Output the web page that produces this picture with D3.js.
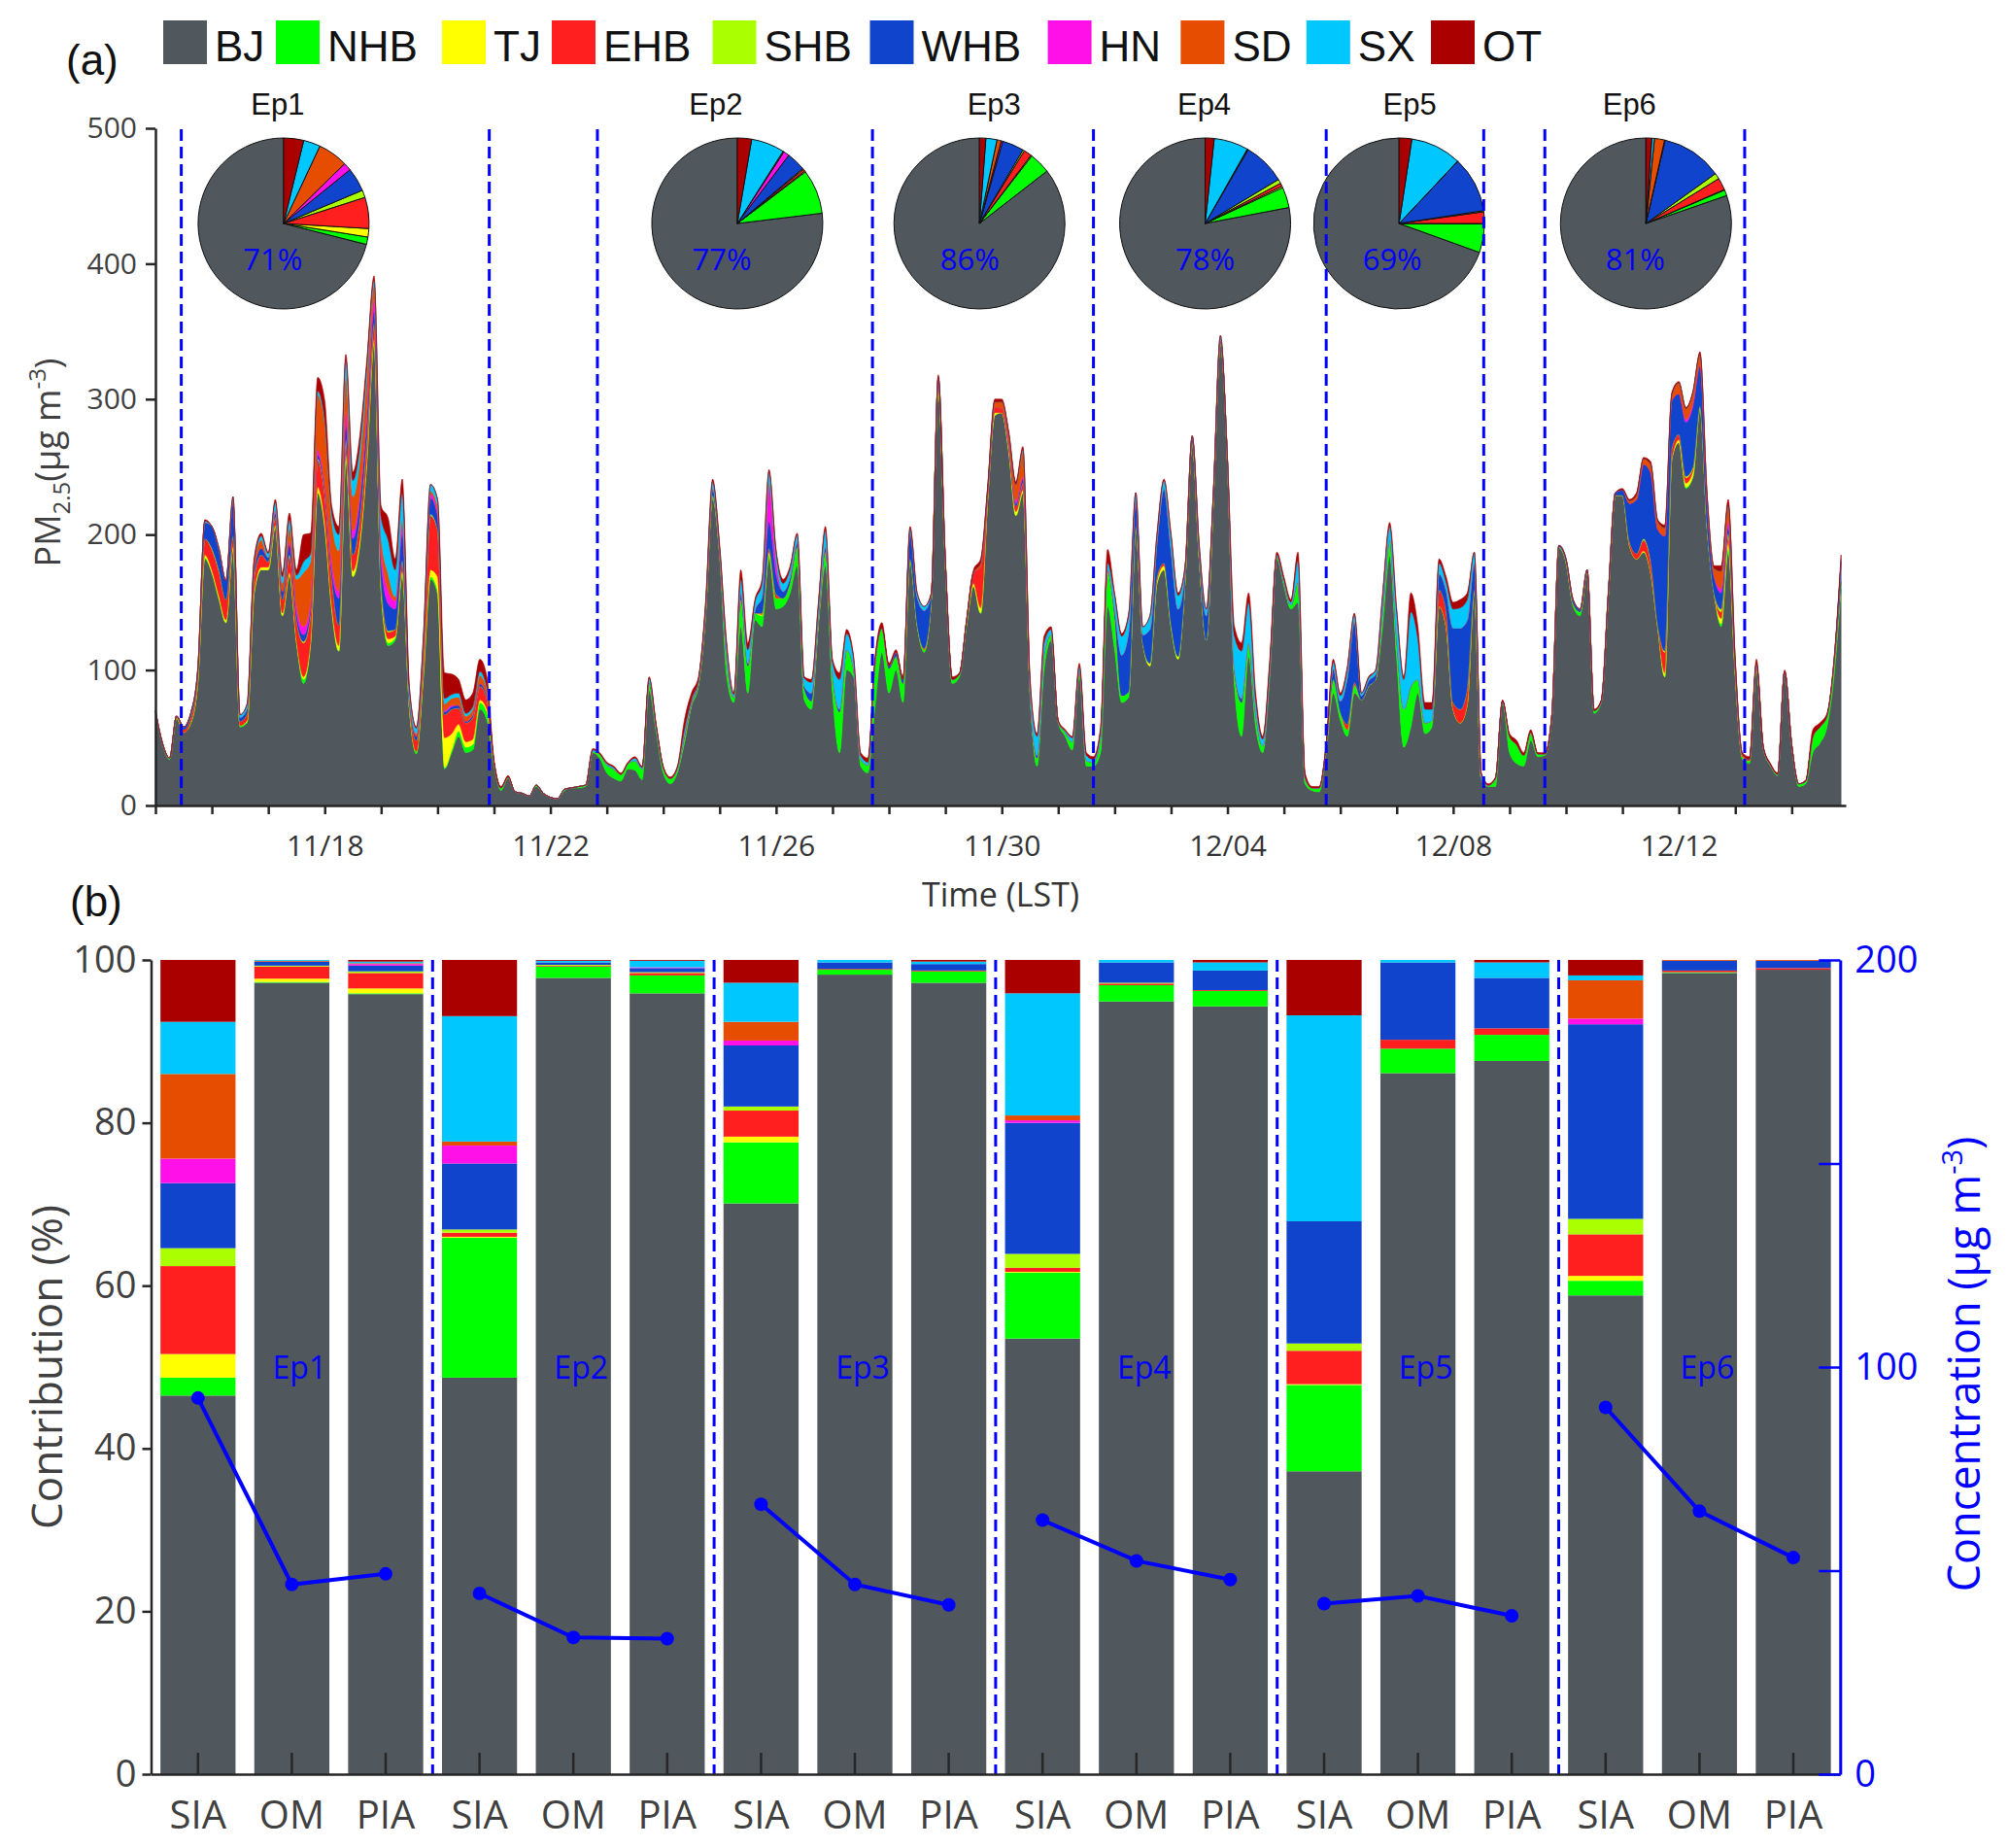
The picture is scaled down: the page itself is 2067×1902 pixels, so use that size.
<!DOCTYPE html>
<html>
<head>
<meta charset="utf-8">
<script src="https://cdn.jsdelivr.net/npm/d3@7"></script>
<style>body{margin:0;background:#fff}</style>
</head>
<body>
<svg id="chart" width="2067" height="1902"></svg>
<script>
var sources = ["BJ", "NHB", "TJ", "EHB", "SHB", "WHB", "HN", "SD", "SX", "OT"];
var colors = ["#50575d", "#00ff00", "#ffff00", "#ff1f1f", "#aaff00", "#1144cc", "#ff10e8", "#e64d00", "#00c8ff", "#aa0000"];

// (a) PM2.5 contributions, one value every 3 h starting 11/15 00:00
var hourStep = 3;
var tsBJ = [69,45,34,64,54,60,90,182,172,152,135,189,58,61,157,174,174,206,140,170,
  120,90,120,231,206,145,114,256,169,194,256,342,157,118,122,169,71,38,95,167,
  156,27,39,51,39,41,71,63,29,11,20,10,9,7,14,9,6,5,11,13,
  13,14,39,35,24,20,18,27,26,19,85,54,24,16,24,46,73,88,140,226,
  184,95,76,132,83,137,132,182,145,147,157,177,78,71,132,177,83,39,100,95,
  29,24,71,113,83,100,76,179,132,113,152,305,177,90,95,132,162,142,226,288,
  290,261,214,231,83,29,100,122,61,51,41,95,29,29,39,147,115,76,80,206,
  120,103,164,174,132,108,167,268,182,122,226,340,253,88,51,110,58,39,95,182,
  162,145,150,16,11,10,39,83,63,51,83,78,88,93,132,184,108,43,58,83,
  53,58,147,132,71,61,75,157,19,14,14,76,39,31,29,48,36,37,66,190,
  179,147,140,172,68,76,155,229,229,192,182,187,172,132,95,256,268,234,243,293,
  206,157,132,187,95,34,31,100,41,29,22,99,45,14,16,39,46,58,95,160];
var tsNHB = [1,1,1,1,0,1,1,1,0,1,0,0,1,1,0,0,0,0,0,0,
  1,3,0,0,0,0,0,0,0,0,0,0,2,2,2,2,2,2,2,2,
  3,1,2,4,4,4,5,6,3,2,1,0,0,0,1,0,0,0,1,0,
  1,1,1,3,6,7,5,4,7,8,6,4,4,4,3,4,2,2,2,3,
  2,12,4,20,20,5,8,3,8,6,8,14,8,6,4,10,15,30,15,6,
  5,6,32,18,18,10,14,3,2,2,0,5,2,3,2,2,0,0,0,0,
  0,0,0,0,3,6,12,4,1,3,6,5,4,3,12,25,25,5,4,0,
  0,0,0,0,0,0,0,0,0,0,0,2,1,10,25,10,10,5,5,2,
  3,3,15,4,2,3,3,10,6,5,6,0,0,0,12,12,15,28,30,10,
  8,5,0,0,0,0,0,2,0,1,6,1,12,14,8,6,2,1,1,1,
  1,2,3,0,2,1,0,0,0,0,0,0,0,0,0,0,0,1,0,0,
  0,0,2,3,2,2,2,2,1,1,1,0,0,2,2,12,12,8,8,5];
var tsTJ = [0,0,0,0,0,0,0,2,2,2,2,2,0,1,2,2,2,1,2,2,
  1,2,2,4,4,3,4,3,4,4,3,2,2,3,1,2,0,0,2,5,
  10,22,12,5,4,4,2,2,0,0,0,0,0,0,0,0,0,0,0,0,
  0,0,0,0,0,0,0,0,0,0,0,0,0,0,0,0,0,0,0,0,
  0,0,0,0,0,0,1,2,0,0,0,0,0,0,0,0,0,0,0,0,
  0,0,0,0,0,0,0,0,0,0,0,0,0,0,0,0,2,4,0,2,
  0,2,3,2,0,0,0,0,0,0,0,0,0,0,0,0,0,0,0,0,
  0,2,2,3,2,2,0,0,0,0,0,0,0,0,0,0,0,0,0,0,
  0,0,0,0,0,0,0,0,0,0,0,0,0,0,0,0,0,0,0,0,
  0,0,0,0,0,0,0,0,0,0,0,0,0,0,0,0,0,0,0,0,
  0,0,0,0,0,0,0,0,0,0,0,1,0,0,3,0,2,3,4,2,
  0,0,4,4,0,0,0,0,0,0,0,0,0,0,0,0,0,0,0,0];
var tsEHB = [0,0,0,1,2,4,5,12,15,18,15,8,3,5,10,9,4,6,10,12,
  15,25,20,20,20,20,15,10,12,15,15,12,4,5,5,8,3,8,15,40,
  35,17,18,12,14,16,10,8,0,0,0,0,0,0,0,0,0,0,0,0,
  0,0,0,0,0,0,0,0,0,0,0,0,0,0,0,0,0,0,0,0,
  0,0,0,0,0,0,1,3,3,0,0,0,0,0,0,0,0,0,0,0,
  0,0,0,0,0,0,0,0,0,1,0,0,0,0,0,2,8,30,5,4,
  3,3,4,5,0,0,0,0,0,0,0,0,0,0,0,2,0,0,0,0,
  0,0,3,2,0,0,0,0,0,0,0,0,0,0,0,0,0,0,0,0,
  0,0,0,0,0,0,0,0,0,4,2,0,0,0,0,0,0,0,0,0,
  0,0,12,12,5,10,12,0,0,0,0,0,0,0,0,0,0,0,0,0,
  0,0,0,0,0,0,0,0,0,3,4,8,8,2,15,8,4,4,2,0,
  0,0,5,5,2,1,1,0,0,0,0,0,0,0,0,0,0,0,0,0];
var tsSHB = [0,0,0,0,0,0,0,0,1,1,0,0,0,0,1,0,0,0,0,1,
  0,1,0,1,1,0,0,1,0,1,1,0,0,1,0,0,0,0,0,1,
  0,0,0,0,0,0,0,0,0,0,0,0,0,0,0,0,0,0,0,0,
  0,0,0,0,0,0,0,0,0,0,0,0,0,0,0,0,0,0,0,0,
  0,0,0,0,0,0,0,0,0,0,0,0,0,0,0,0,0,0,0,0,
  0,0,0,0,0,0,0,0,0,0,0,0,0,0,0,0,0,0,0,0,
  0,0,0,0,0,0,0,0,0,0,0,0,0,0,0,0,0,0,0,0,
  0,0,0,0,0,0,0,0,0,0,0,0,0,0,0,0,0,0,0,0,
  0,0,0,0,0,0,0,0,0,0,0,0,0,0,0,0,0,0,0,0,
  0,0,0,0,0,0,0,0,0,0,0,0,0,0,0,0,0,0,0,0,
  0,0,0,0,0,0,0,0,0,0,0,1,1,0,1,0,0,1,1,0,
  0,0,2,2,0,0,0,0,0,0,0,0,0,0,0,0,0,0,0,0];
var tsWHB = [0,0,0,0,2,3,4,12,16,15,14,25,3,4,5,5,3,3,6,8,
  5,5,4,3,3,6,20,12,12,12,12,10,15,20,15,20,5,3,5,12,
  10,2,2,2,1,2,2,2,0,0,0,0,0,0,0,0,0,0,0,0,
  0,0,0,0,0,0,0,0,0,0,0,0,0,0,0,2,1,2,3,5,
  2,2,0,5,2,2,12,20,15,5,4,3,2,6,4,4,0,2,0,0,
  0,0,0,0,2,3,3,20,20,28,4,6,2,0,0,0,0,0,0,0,
  0,0,2,3,2,2,0,0,0,0,0,0,0,0,0,0,5,30,45,20,
  6,25,25,55,55,35,8,4,6,18,4,2,0,2,3,0,0,0,0,0,
  0,0,0,0,0,0,2,8,8,35,45,3,4,4,0,0,0,0,0,0,
  0,0,12,15,55,60,50,20,2,0,0,0,0,0,0,0,0,0,0,1,
  2,3,2,2,0,0,2,2,4,28,40,55,65,70,85,35,30,40,45,30,
  18,12,12,5,3,0,0,2,0,0,0,0,0,0,0,0,0,0,3,15];
var tsHN = [0,0,0,0,0,0,0,0,0,0,0,1,0,0,0,0,0,2,0,2,
  5,6,4,4,3,6,5,10,6,5,6,8,8,10,6,6,0,0,0,3,
  3,1,1,0,0,0,0,0,0,0,0,0,0,0,0,0,0,0,0,0,
  0,0,0,0,0,0,0,0,0,0,0,0,0,0,0,0,0,0,0,0,
  0,0,0,0,0,0,0,25,10,0,0,0,0,0,0,0,0,0,0,0,
  0,0,0,0,0,0,0,0,0,0,0,0,0,0,0,0,0,0,0,0,
  0,2,2,2,0,0,0,0,0,0,0,0,0,0,0,0,0,0,0,0,
  0,0,0,0,0,0,0,0,0,0,0,0,0,0,0,0,0,0,0,0,
  0,0,0,0,0,0,0,0,0,0,0,0,0,0,0,0,0,0,0,0,
  0,0,0,0,0,0,0,0,0,0,0,0,0,0,0,0,0,0,0,0,
  0,0,0,0,0,0,0,0,0,0,0,0,0,0,0,0,0,2,2,0,
  0,0,3,4,0,0,0,0,0,0,0,0,0,0,0,0,0,0,0,0];
var tsSD = [0,0,0,0,0,0,0,0,0,0,0,0,0,0,5,6,0,0,6,10,
  20,40,30,40,45,30,30,25,25,25,25,10,10,12,3,4,0,2,2,2,
  4,5,5,6,4,4,6,4,0,0,0,0,0,0,0,0,0,0,0,0,
  0,0,0,0,0,0,0,0,0,0,0,0,0,0,0,0,0,0,0,0,
  0,0,0,0,0,0,0,3,0,0,0,0,0,0,0,0,0,0,0,0,
  0,0,0,0,0,0,0,0,0,0,0,0,0,0,0,0,0,3,3,4,
  5,6,12,18,0,0,0,0,0,0,0,0,0,0,0,0,0,0,0,0,
  0,0,0,0,0,0,0,0,0,0,0,0,0,0,0,0,0,0,0,0,
  0,0,0,0,0,0,0,0,0,0,0,0,0,0,0,0,0,0,0,0,
  0,0,0,0,0,0,0,0,0,0,0,0,0,0,0,0,0,0,0,0,
  0,0,0,0,0,0,0,0,0,2,3,4,6,6,6,4,8,8,8,8,
  5,6,13,12,4,1,0,0,0,0,0,0,0,0,0,0,0,0,0,0];
var tsSX = [0,0,0,0,0,0,0,1,0,1,0,3,2,3,0,3,3,6,5,6,
  3,8,6,3,3,6,12,12,12,10,8,4,15,25,20,20,6,4,4,5,
  5,4,3,3,2,2,3,2,0,0,0,0,0,0,0,0,0,0,0,0,
  0,0,1,0,1,1,0,0,2,1,3,1,0,0,1,4,2,1,3,5,
  3,8,2,10,10,6,10,8,6,6,6,6,6,8,8,12,8,22,12,7,
  3,2,2,0,0,0,0,3,3,3,0,0,0,0,0,0,0,0,0,0,
  0,0,0,2,5,14,8,4,0,1,3,3,4,2,4,5,10,14,12,5,
  6,10,5,6,10,10,2,1,4,5,1,3,2,25,35,30,10,5,5,1,
  2,2,16,1,0,0,0,5,4,6,5,2,2,3,10,10,20,22,55,30,
  10,8,8,6,14,15,15,8,2,0,0,0,0,0,0,0,0,0,0,0,
  0,0,0,0,0,0,0,0,0,0,0,0,0,0,0,0,0,0,0,0,
  0,0,0,0,0,0,0,1,0,0,0,0,0,0,0,0,0,0,0,2];
var tsOT = [0,0,0,0,0,0,0,1,0,0,0,0,0,0,3,2,1,2,3,5,
  4,20,15,10,14,5,6,4,6,8,5,3,8,16,8,10,1,1,0,0,
  0,19,15,10,10,10,9,8,2,1,1,0,0,0,0,0,0,0,0,0,
  0,0,1,1,1,1,1,1,1,1,1,1,1,1,1,7,5,2,2,2,
  1,3,1,7,5,2,3,2,2,3,2,1,1,2,2,3,2,5,3,2,
  2,3,3,4,2,2,2,1,0,0,1,2,1,2,1,1,2,3,2,2,
  2,2,2,2,2,2,5,2,1,1,1,2,2,2,3,10,2,2,1,0,
  0,0,2,1,2,2,0,0,0,0,0,0,0,7,6,7,5,2,3,2,
  2,2,6,3,1,1,2,2,2,2,1,0,1,0,3,3,2,2,14,9,
  5,5,3,4,5,6,5,0,1,1,1,1,2,3,2,2,1,1,1,0,
  0,0,0,0,1,1,0,0,1,1,2,1,2,1,2,2,1,1,1,2,
  2,2,4,4,2,1,2,3,1,1,1,1,1,0,1,5,3,2,2,3];

// episode boundaries (hours from 11/15 00:00)
var epBounds = [11, 142, 188, 305, 399, 498, 565, 591, 676];
var dayTicks = d3.range(0, 30);
var labelDays = [3, 7, 11, 15, 19, 23, 27];
var dayLabels = ["11/18", "11/22", "11/26", "11/30", "12/04", "12/08", "12/12"];

// pie charts: share (%) of each source per episode
var episodes = ["Ep1", "Ep2", "Ep3", "Ep4", "Ep5", "Ep6"];
var pieBJ = [71.2, 77.0, 85.5, 78.0, 69.5, 80.3];
var pieNHB = [1.4, 8.4, 4.0, 3.9, 5.4, 1.1];
var pieTJ = [1.6, 0.2, 0.2, 0.3, 0.1, 0.1];
var pieEHB = [5.9, 0.4, 1.5, 0.6, 2.2, 2.3];
var pieSHB = [1.4, 0.2, 0.3, 0.8, 0.2, 1.1];
var pieWHB = [4.5, 3.6, 4.1, 8.0, 10.6, 11.5];
var pieHN = [1.5, 1.1, 0.3, 0.1, 0.0, 0.1];
var pieSD = [5.7, 0.2, 0.8, 0.1, 0.0, 1.9];
var pieSX = [3.2, 6.3, 2.1, 6.5, 9.6, 0.5];
var pieOT = [3.8, 2.7, 1.2, 1.7, 2.4, 1.1];
var pieLabels = ["71%", "77%", "86%", "78%", "69%", "81%"];

// (b) contribution (%) per component and episode
var components = ["SIA", "OM", "PIA"];
var barBJ = [46.5, 97.2, 95.8, 48.7, 97.8, 95.9, 70.1, 98.2, 97.2, 53.5, 94.9, 94.3, 37.2, 86.1, 87.6, 58.8, 98.4, 98.8];
var barNHB = [2.2, 0.1, 0.1, 17.2, 1.4, 2.2, 7.5, 0.6, 1.4, 8.1, 2.0, 1.9, 10.6, 3.0, 3.2, 1.8, 0.1, 0.0];
var barTJ = [2.9, 0.4, 0.6, 0.1, 0.0, 0.0, 0.7, 0.0, 0.0, 0.1, 0.0, 0.0, 0.1, 0.0, 0.0, 0.6, 0.0, 0.0];
var barEHB = [10.8, 1.5, 1.9, 0.5, 0.1, 0.3, 3.2, 0.1, 0.1, 0.5, 0.2, 0.1, 4.1, 1.1, 0.8, 5.1, 0.2, 0.2];
var barSHB = [2.2, 0.1, 0.2, 0.4, 0.1, 0.1, 0.5, 0.0, 0.0, 1.7, 0.1, 0.0, 0.9, 0.0, 0.0, 1.9, 0.0, 0.0];
var barWHB = [8.0, 0.5, 0.7, 8.1, 0.3, 0.5, 7.5, 0.8, 0.8, 16.1, 2.5, 2.4, 15.0, 9.5, 6.2, 23.9, 1.2, 0.9];
var barHN = [3.0, 0.0, 0.2, 2.2, 0.0, 0.1, 0.6, 0.0, 0.0, 0.3, 0.0, 0.0, 0.0, 0.0, 0.0, 0.7, 0.0, 0.0];
var barSD = [10.4, 0.1, 0.1, 0.5, 0.0, 0.0, 2.3, 0.0, 0.0, 0.6, 0.0, 0.0, 0.0, 0.0, 0.0, 4.7, 0.1, 0.1];
var barSX = [6.4, 0.1, 0.2, 15.4, 0.2, 0.8, 4.8, 0.3, 0.3, 15.0, 0.3, 1.0, 25.3, 0.3, 1.9, 0.6, 0.0, 0.0];
var barOT = [7.6, 0.0, 0.2, 6.9, 0.1, 0.1, 2.8, 0.0, 0.2, 4.1, 0.0, 0.3, 6.8, 0.0, 0.3, 1.9, 0.0, 0.0];
var concentration = [92.4, 46.6, 49.2, 44.4, 33.6, 33.3, 66.3, 46.6, 41.6, 62.4, 52.4, 47.8, 41.9, 43.8, 38.9, 90.1, 64.6, 53.2];

var tsData = {BJ: tsBJ, NHB: tsNHB, TJ: tsTJ, EHB: tsEHB, SHB: tsSHB, WHB: tsWHB, HN: tsHN, SD: tsSD, SX: tsSX, OT: tsOT};
var pieData = {BJ: pieBJ, NHB: pieNHB, TJ: pieTJ, EHB: pieEHB, SHB: pieSHB, WHB: pieWHB, HN: pieHN, SD: pieSD, SX: pieSX, OT: pieOT};
var barData = {BJ: barBJ, NHB: barNHB, TJ: barTJ, EHB: barEHB, SHB: barSHB, WHB: barWHB, HN: barHN, SD: barSD, SX: barSX, OT: barOT};

var FONT = "'Open Sans', sans-serif";
var ARIAL = "'Liberation Sans', Arial, sans-serif";
var BLUE = "#0000ff";
var svg = d3.select("#chart");

function styleAxis(g, color, textColor, size) {
    g.select(".domain").attr("stroke", color).attr("stroke-width", 2.5);
    g.selectAll(".tick line").attr("stroke", color).attr("stroke-width", 2.5);
    g.selectAll(".tick text")
        .attr("fill", textColor)
        .style("font-size", size + "px")
        .style("font-family", FONT);
}

// ---------- legend ----------
var legendX = [168, 284, 455, 568, 733.5, 895.5, 1078.6, 1215.4, 1344.8, 1473];
sources.forEach(function (s, i) {
    svg.append("rect")
        .attr("x", legendX[i]).attr("y", 21)
        .attr("width", 45).attr("height", 45)
        .attr("fill", colors[i]);
    svg.append("text")
        .attr("x", legendX[i] + 53).attr("y", 63)
        .text(s)
        .style("font-size", "44px").style("font-family", ARIAL)
        .attr("fill", "#111");
});

svg.append("text").attr("x", 68).attr("y", 77).text("(a)")
    .style("font-size", "44px").style("font-family", ARIAL).attr("fill", "#111");
svg.append("text").attr("x", 72).attr("y", 943).text("(b)")
    .style("font-size", "44px").style("font-family", ARIAL).attr("fill", "#111");

// ---------- panel (a) ----------
var xa = d3.scaleLinear().domain([0, 719]).range([160, 1900]);
var ya = d3.scaleLinear().domain([0, 500]).range([829, 132]);

var rows = tsBJ.map(function (v, i) {
    var r = {hour: i * hourStep};
    sources.forEach(function (s) { r[s] = tsData[s][i]; });
    return r;
});
var layers = d3.stack().keys(sources)(rows);
var area = d3.area()
    .curve(d3.curveMonotoneX)
    .x(function (d) { return xa(d.data.hour); })
    .y0(function (d) { return ya(d[0]); })
    .y1(function (d) { return ya(d[1]); });

svg.append("g").selectAll("path").data(layers).join("path")
    .attr("d", area)
    .attr("fill", function (d, i) { return colors[i]; })
    .attr("stroke", function (d, i) { return colors[i]; })
    .attr("stroke-width", 0.6);

// pies
var pieX = [54.5, 247.5, 350.5, 446.5, 529, 634];
var pieTitleDx = [-6, -22, 15, -1, 11, -17];
var pieLabelDx = [-11, -16, -10, 0, -7, -11];
var pie = d3.pie().sort(null).startAngle(0).endAngle(-2 * Math.PI);
var arc = d3.arc().innerRadius(0).outerRadius(88);

episodes.forEach(function (ep, k) {
    var cx = xa(pieX[k]);
    var vals = sources.map(function (s) { return pieData[s][k]; });
    var g = svg.append("g").attr("transform", "translate(" + cx + ",230)");
    g.selectAll("path").data(pie(vals)).join("path")
        .attr("d", arc)
        .attr("fill", function (d, i) { return colors[i]; })
        .attr("stroke", "#111")
        .attr("stroke-width", 1);
    g.append("text")
        .attr("x", pieLabelDx[k]).attr("y", 48)
        .attr("text-anchor", "middle")
        .text(pieLabels[k])
        .style("font-size", "31px").style("font-family", FONT)
        .attr("fill", BLUE);
    svg.append("text")
        .attr("x", cx + pieTitleDx[k]).attr("y", 118)
        .attr("text-anchor", "middle")
        .text(ep)
        .style("font-size", "31px").style("font-family", ARIAL)
        .attr("fill", "#111");
});

// episode dashed lines
svg.append("g").selectAll("line").data(epBounds).join("line")
    .attr("x1", function (d) { return xa(d); })
    .attr("x2", function (d) { return xa(d); })
    .attr("y1", 133).attr("y2", 829)
    .attr("stroke", BLUE).attr("stroke-width", 3)
    .attr("stroke-dasharray", "12,6");

var axYa = svg.append("g").attr("transform", "translate(160,0)")
    .call(d3.axisLeft(ya).tickValues([0, 100, 200, 300, 400, 500])
        .tickSize(10).tickPadding(9).tickSizeOuter(0));
styleAxis(axYa, "#262626", "#404040", 30);

var axXa = svg.append("g").attr("transform", "translate(0,829)")
    .call(d3.axisBottom(xa).tickValues(dayTicks.map(function (d) { return d * 24; }))
        .tickSize(9).tickPadding(22).tickSizeOuter(0)
        .tickFormat(function (h) {
            var k = labelDays.indexOf(h / 24);
            return k < 0 ? "" : dayLabels[k];
        }));
styleAxis(axXa, "#262626", "#333", 30);

svg.append("text")
    .attr("x", 1030).attr("y", 933)
    .attr("text-anchor", "middle")
    .text("Time (LST)")
    .style("font-size", "34px").style("font-family", FONT)
    .attr("fill", "#333");

var yLabA = svg.append("text")
    .attr("transform", "translate(62,476) rotate(-90)")
    .attr("text-anchor", "middle")
    .style("font-size", "36px").style("font-family", FONT)
    .attr("fill", "#404040");
yLabA.append("tspan").text("PM");
yLabA.append("tspan").text("2.5").attr("dy", 10).style("font-size", "24px");
yLabA.append("tspan").text("(μg m").attr("dy", -10);
yLabA.append("tspan").text("-3").attr("dy", -15).style("font-size", "24px");
yLabA.append("tspan").text(")").attr("dy", 15);

// ---------- panel (b) ----------
var xb = d3.scaleBand().domain(d3.range(18)).range([155.5, 1894.3])
    .paddingInner(0.2).paddingOuter(0.1);
var yb = d3.scaleLinear().domain([0, 100]).range([1826, 988]);
var yc = d3.scaleLinear().domain([0, 200]).range([1826, 988]);

var barRows = d3.range(18).map(function (i) {
    var r = {i: i};
    sources.forEach(function (s) { r[s] = barData[s][i]; });
    return r;
});
var barStack = d3.stack().keys(sources)(barRows);

svg.append("g").selectAll("g").data(barStack).join("g")
    .attr("fill", function (d, i) { return colors[i]; })
    .selectAll("rect").data(function (d) { return d; }).join("rect")
    .attr("x", function (d) { return xb(d.data.i); })
    .attr("width", xb.bandwidth())
    .attr("y", function (d) { return yb(d[1]); })
    .attr("height", function (d) { return yb(d[0]) - yb(d[1]); });

// separators between episodes
svg.append("g").selectAll("line").data([1, 2, 3, 4, 5]).join("line")
    .attr("x1", function (k) { return xb(3 * k) - xb.step() * 0.1; })
    .attr("x2", function (k) { return xb(3 * k) - xb.step() * 0.1; })
    .attr("y1", 988).attr("y2", 1826)
    .attr("stroke", BLUE).attr("stroke-width", 3)
    .attr("stroke-dasharray", "12,6");

// episode labels
svg.append("g").selectAll("text").data(episodes).join("text")
    .attr("x", function (d, k) { return xb(3 * k + 1) + xb.bandwidth() / 2 + 8; })
    .attr("y", yb(50))
    .attr("dy", "0.36em")
    .attr("text-anchor", "middle")
    .text(function (d) { return d; })
    .style("font-size", "32px").style("font-family", FONT)
    .attr("fill", BLUE);

// concentration lines per episode
var cline = d3.line()
    .x(function (i) { return xb(i) + xb.bandwidth() / 2; })
    .y(function (i) { return yc(concentration[i]); });
episodes.forEach(function (ep, k) {
    var idx = [3 * k, 3 * k + 1, 3 * k + 2];
    svg.append("path").attr("d", cline(idx))
        .attr("fill", "none").attr("stroke", BLUE).attr("stroke-width", 4);
    svg.append("g").selectAll("circle").data(idx).join("circle")
        .attr("cx", function (i) { return xb(i) + xb.bandwidth() / 2; })
        .attr("cy", function (i) { return yc(concentration[i]); })
        .attr("r", 7)
        .attr("fill", BLUE);
});

var axYb = svg.append("g").attr("transform", "translate(155.5,0)")
    .call(d3.axisLeft(yb).tickValues([0, 20, 40, 60, 80, 100])
        .tickSize(9).tickPadding(6).tickSizeOuter(0));
styleAxis(axYb, "#262626", "#404040", 38);

var axXb = svg.append("g").attr("transform", "translate(0,1826)")
    .call(d3.axisBottom(xb).tickSize(-22).tickPadding(28).tickSizeOuter(0)
        .tickFormat(function (i) { return components[i % 3]; }));
styleAxis(axXb, "#262626", "#404040", 40);

var axYc = svg.append("g").attr("transform", "translate(1894.3,0)")
    .call(d3.axisRight(yc).tickValues([0, 50, 100, 150, 200])
        .tickSize(-22).tickPadding(15).tickSizeOuter(0)
        .tickFormat(function (d) { return d % 100 === 0 ? d : ""; }));
styleAxis(axYc, BLUE, BLUE, 38);
axYc.select(".domain").attr("stroke-width", 3);

svg.append("text")
    .attr("transform", "translate(64,1407) rotate(-90)")
    .attr("text-anchor", "middle")
    .text("Contribution (%)")
    .style("font-size", "44px").style("font-family", FONT)
    .attr("fill", "#404040");

var yLabC = svg.append("text")
    .attr("transform", "translate(2038,1404) rotate(-90)")
    .attr("text-anchor", "middle")
    .style("font-size", "45px").style("font-family", FONT)
    .attr("fill", BLUE);
yLabC.append("tspan").text("Concentration (μg m");
yLabC.append("tspan").text("-3").attr("dy", -18).style("font-size", "29px");
yLabC.append("tspan").text(")").attr("dy", 18);
</script>
</body>
</html>
